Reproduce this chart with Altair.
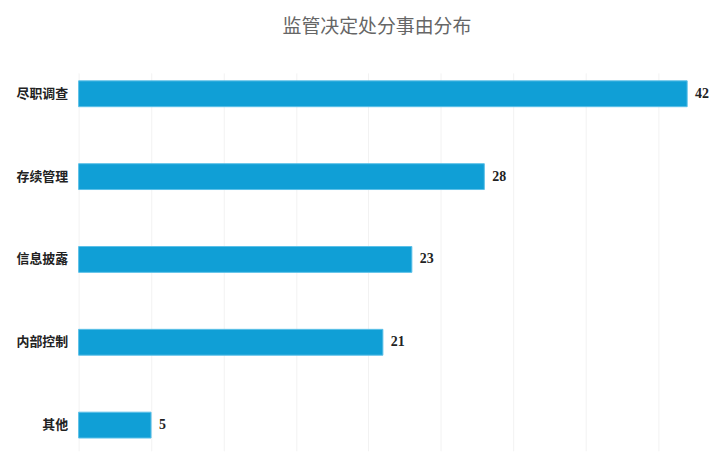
import altair as alt
import pandas as pd

categories = ["尽职调查", "存续管理", "信息披露", "内部控制", "其他"]
values = [42, 28, 23, 21, 5]

df = pd.DataFrame({"cat": categories, "val": values})

x_scale = alt.Scale(domain=[0, 42], nice=False, zero=True)
y_scale = alt.Scale(domain=categories, paddingInner=0.688, paddingOuter=0.125, align=0.385)

base = alt.Chart(df)

bars = base.mark_bar(color="#109fd6", stroke="#5cc0e8", strokeWidth=1).encode(
    x=alt.X("val:Q", scale=x_scale,
            axis=alt.Axis(values=[0, 5, 10, 15, 20, 25, 30, 35, 40], labels=False, ticks=False,
                          domain=False, grid=True, gridColor="#f2f2f2", gridWidth=1, title=None)),
    y=alt.Y("cat:N", scale=y_scale, sort=categories,
            axis=alt.Axis(title=None, ticks=False, domain=False, labelPadding=11, grid=False,
                          labelFont="Noto Sans CJK SC", labelFontSize=13, labelFontWeight="bold",
                          labelColor="#222222")),
)

text = base.mark_text(align="left", baseline="middle", dx=8, font="Liberation Serif",
                      fontSize=14, fontWeight="bold", color="#222222").encode(
    x=alt.X("val:Q", scale=x_scale),
    y=alt.Y("cat:N", scale=y_scale, sort=categories),
    text="val:Q",
)

chart = (bars + text).properties(
    width=612,
    height=380,
    autosize=alt.AutoSizeParams(type="none"),
    padding={"left": 71, "top": 64, "right": 30, "bottom": 0},
    title=alt.TitleParams("监管决定处分事由分布", font="Noto Sans CJK SC", fontSize=19,
                          fontWeight="normal", color="#666666", anchor="middle", offset=36,
                          dx=-6),
).configure(background="white", view=alt.ViewConfig(stroke=None))

chart.save("out.html", embed_options={"renderer": "svg", "actions": False})
